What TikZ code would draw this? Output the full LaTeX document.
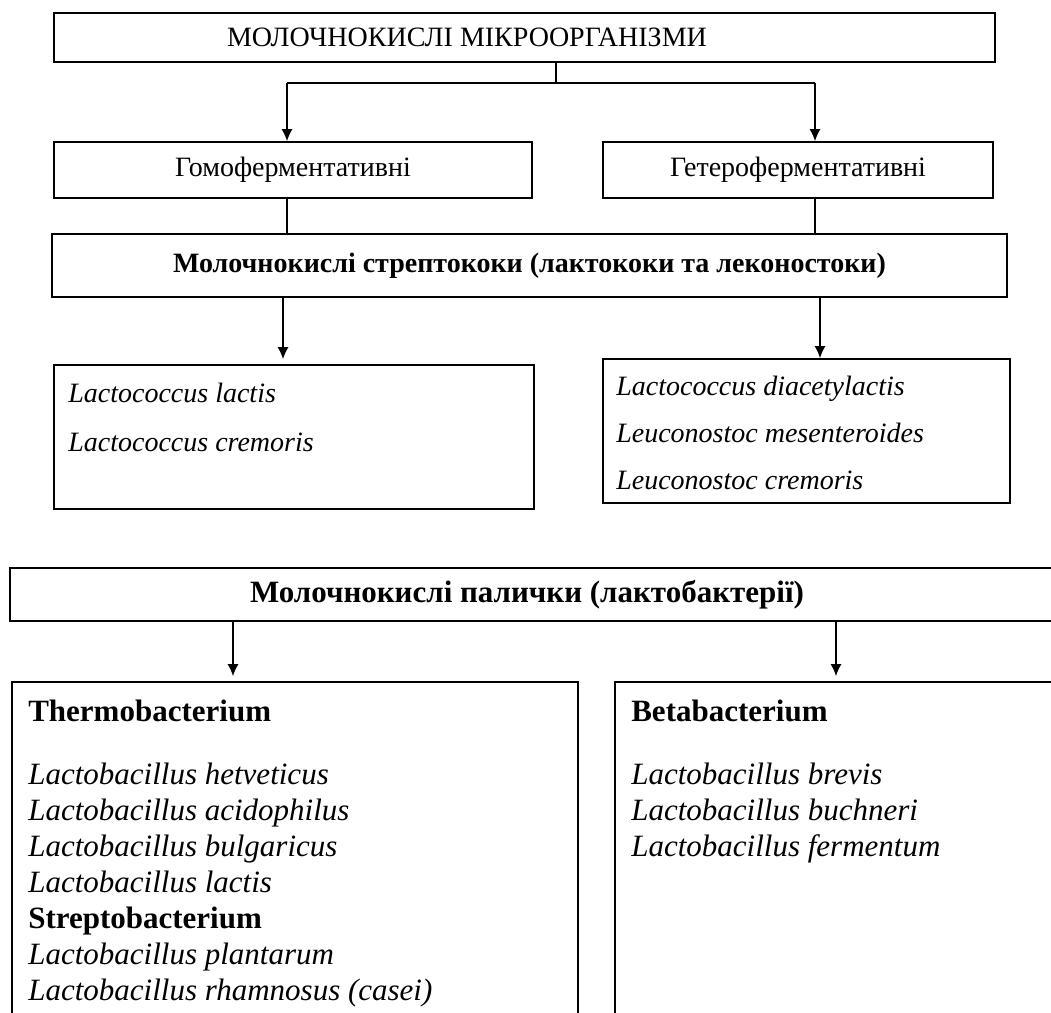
\documentclass[tikz,border=0pt]{standalone}
\usepackage{fontspec}
\setmainfont{Liberation Serif}
\usetikzlibrary{arrows.meta,calc,positioning}

\newcommand{\topfont}{\fontsize{28}{34}\selectfont}
\newcommand{\botfont}{\fontsize{31}{36}\selectfont}
\tikzset{
  box/.style={draw, line width=1.8pt, inner sep=0pt},
  conn/.style={line width=1.2pt},
  arr/.style={conn, -{Latex[length=12pt,width=11pt]}},
  list/.style={anchor=north west, align=left, inner sep=0pt},
}

\begin{document}
\begin{tikzpicture}[x=1pt,y=-1pt]
                \useasboundingbox (0,0) rectangle (1051,1012);
                \clip (0,0) rectangle (1051,1012);
                % upper scheme: streptococci
                \node[box, minimum width=941, minimum height=49, font=\topfont] (micro) at (524.5,37.5)
                    {\makebox[941pt][l]{\hspace*{173pt}МОЛОЧНОКИСЛІ МІКРООРГАНІЗМИ}};
                \node[box, minimum width=478, minimum height=56, font=\topfont] (homo) at (293,170) {Гомоферментативні};
                \node[box, minimum width=390, minimum height=56, font=\topfont] (hetero) at (798,170) {Гетероферментативні};
                \node[box, minimum width=955, minimum height=63, font=\topfont\bfseries] (strep) at (529.5,265.5)
                    {Молочнокислі стрептококи (лактококи та леконостоки)};
                \node[box, minimum width=480, minimum height=144] (lbox) at (294,437) {};
                \node[box, minimum width=407, minimum height=144] (rbox) at (806.5,431) {};
                \node[list, font=\fontsize{28}{49}\selectfont\itshape] (ltext) at ([shift={(15,19)}]lbox.north west)
                    {Lactococcus lactis\\Lactococcus cremoris};
                \node[list, font=\fontsize{28}{47}\selectfont\itshape] (rtext) at ([shift={(14,18)}]rbox.north west)
                    {Lactococcus diacetylactis\\Leuconostoc mesenteroides\\Leuconostoc cremoris};
                \coordinate (split) at (556,83);
                \coordinate (jl) at (287,83);
                \coordinate (jr) at (815,83);
                \draw[conn] (micro.south -| split) -- (split);
                \draw[conn] (jl) -- (jr);
                \draw[arr] (jl) -- (jl |- homo.north);
                \draw[arr] (jr) -- (jr |- hetero.north);
                \draw[conn] (jl |- homo.south) -- (jl |- strep.north);
                \draw[conn] (jr |- hetero.south) -- (jr |- strep.north);
                \coordinate (sl) at (283,297);
                \coordinate (sr) at (820,297);
                \draw[arr, shorten >=5pt] (sl |- strep.south) -- (sl |- lbox.north);
                \draw[arr] (sr |- strep.south) -- (sr |- rbox.north);
                % lower scheme: lactobacilli
                \node[box, minimum width=1050, minimum height=53, font=\botfont\bfseries] (pal) at (535,594.5)
                    {Молочнокислі палички (лактобактерії)\hspace*{16pt}};
                \node[box, minimum width=566, minimum height=348] (thermo) at (295,856) {};
                \node[box, minimum width=455, minimum height=348] (beta) at (842.5,856) {};
                \node[list, font=\botfont] (ttext) at ([shift={(17,19)}]thermo.north west)
                    {\textbf{Thermobacterium}\\[27pt]
                     \textit{Lactobacillus hetveticus}\\
                     \textit{Lactobacillus acidophilus}\\
                     \textit{Lactobacillus bulgaricus}\\
                     \textit{Lactobacillus lactis}\\
                     \textbf{Streptobacterium}\\
                     \textit{Lactobacillus plantarum}\\
                     \textit{Lactobacillus rhamnosus (casei)}};
                \node[list, font=\botfont] (btext) at ([shift={(17,19)}]beta.north west)
                    {\textbf{Betabacterium}\\[27pt]
                     \textit{Lactobacillus brevis}\\
                     \textit{Lactobacillus buchneri}\\
                     \textit{Lactobacillus fermentum}};
                \coordinate (pl) at (233,621);
                \coordinate (pr) at (836,621);
                \draw[arr, shorten >=5pt] (pl |- pal.south) -- (pl |- thermo.north);
                \draw[arr, shorten >=5pt] (pr |- pal.south) -- (pr |- beta.north);
\end{tikzpicture}
\end{document}
